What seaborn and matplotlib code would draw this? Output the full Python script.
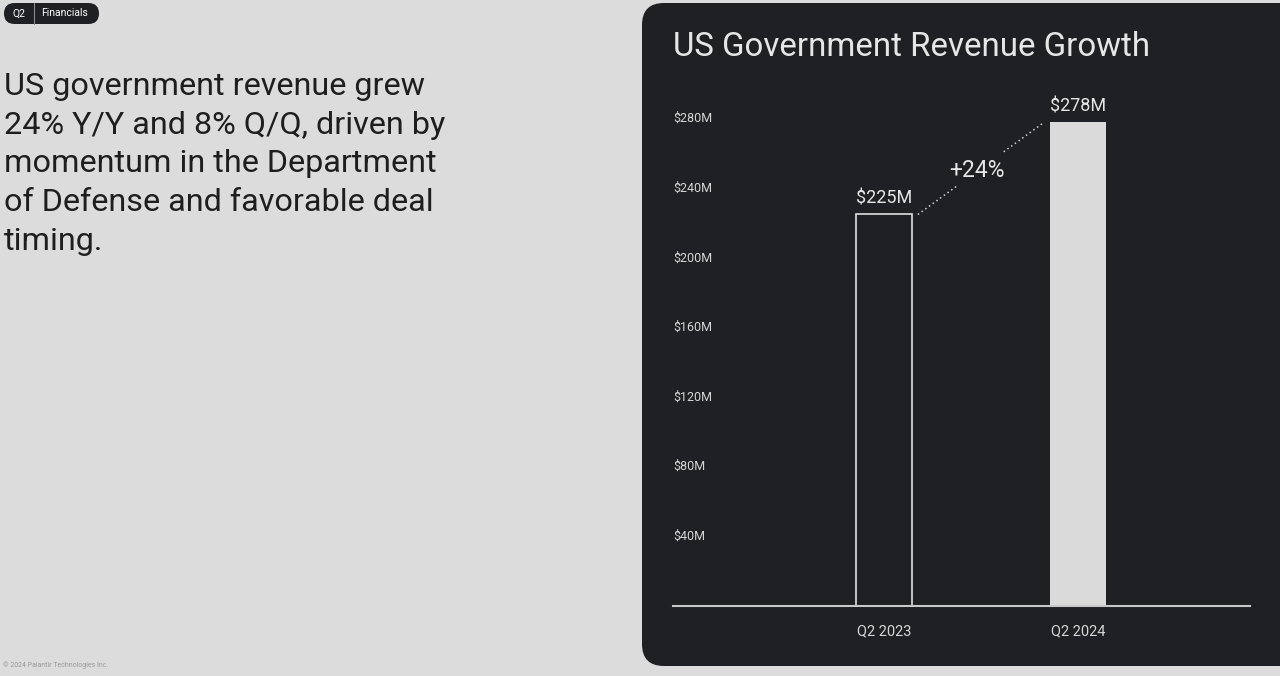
import matplotlib
matplotlib.use('Agg')
import matplotlib.pyplot as plt
from matplotlib.patches import FancyBboxPatch
import seaborn as sns

# Chart data
quarters = ['Q2 2023', 'Q2 2024']
revenue = [225, 278]          # $M
growth_label = '+24%'
tick_values = [40, 80, 120, 160, 200, 240, 280]

headline = ("US government revenue grew\n24% Y/Y and 8% Q/Q, driven by\n"
            "momentum in the Department\nof Defense and favorable deal\ntiming.")

sns.set_theme(style='white')
plt.rcParams['font.family'] = ['Roboto', 'DejaVu Sans']

W, H = 12.8, 6.76
fig = plt.figure(figsize=(W, H), dpi=100)
fig.patch.set_facecolor('#dcdcdc')

PANEL = '#1f2023'
LIGHT = '#e6e6e6'

# Dark panel on the right
panel = FancyBboxPatch((6.42, 0.10), 6.9, 6.63,
                       boxstyle='round,pad=0,rounding_size=0.22',
                       transform=fig.dpi_scale_trans,
                       facecolor=PANEL, edgecolor='none', zorder=0)
fig.add_artist(panel)

# Badge at top left
badge = FancyBboxPatch((0.04, 6.52), 0.95, 0.21,
                       boxstyle='round,pad=0,rounding_size=0.105',
                       transform=fig.dpi_scale_trans,
                       facecolor=PANEL, edgecolor='none')
fig.add_artist(badge)
fig.add_artist(plt.Line2D([0.34, 0.34], [6.52, 6.73], color='#8a8a8a', lw=0.8,
                          transform=fig.dpi_scale_trans))
fig.text(0.19 / W, 6.625 / H, 'Q2', color='white', fontsize=7.5, ha='center', va='center')
fig.text(0.41 / W, 6.625 / H, 'Financials', color='white', fontsize=7.5, ha='left', va='center')

# Headline text
fig.text(4 / 1280, 1 - 72 / 676, headline, color='#1e1e1e', fontsize=23.3,
         ha='left', va='top', linespacing=1.42)

fig.text(3 / 1280, 1 - 665 / 676, '\u00a9 2024 Palantir Technologies Inc.', color='#9a9a9a',
         fontsize=5, ha='left', va='center')

# Chart title
fig.text(673 / 1280, 1 - 47 / 676, 'US Government Revenue Growth', color=LIGHT,
         fontsize=23.8, ha='left', va='center')

# Bar chart
ax = fig.add_axes([673 / 1280, 70 / 676, 577 / 1280, 522 / 676])
ax.set_facecolor('none')
bar_w = 0.289
sns.barplot(x=quarters, y=revenue, width=bar_w, ax=ax, color='#d9d9d9')
ax.patches[0].set_facecolor(PANEL)
ax.patches[0].set_edgecolor('#e0e0e0')
ax.patches[0].set_linewidth(1.2)
ax.patches[1].set_facecolor('#dadada')
ax.patches[1].set_edgecolor('none')

ax.set_xlim(-1.088, 1.887)
ax.set_ylim(0, 300)
ax.set_xlabel('')
ax.set_ylabel('')
for s in ['top', 'right', 'left']:
    ax.spines[s].set_visible(False)
ax.spines['bottom'].set_color('#c8c8c8')
ax.spines['bottom'].set_linewidth(1.5)
ax.set_yticks([])
ax.tick_params(axis='x', length=0, pad=13, labelsize=10.5, labelcolor='#d6d6d6')

# y labels drawn inside the axes at the left edge
for v in tick_values:
    ax.text(0, v, f'${v}M', transform=ax.get_yaxis_transform(), color='#d6d6d6',
            fontsize=9, ha='left', va='center')

# value labels
for i, v in enumerate(revenue):
    ax.text(i, v + 4, f'${v}M', color=LIGHT, fontsize=13, ha='center', va='bottom')

# dotted connector with a gap for the growth label
x0, y0 = bar_w / 2 + 0.03, revenue[0]
x1, y1 = 1 - bar_w / 2 - 0.03, revenue[1]
def lerp(t):
    return x0 + (x1 - x0) * t, y0 + (y1 - y0) * t
for a, b in [(0, 0.32), (0.68, 1)]:
    pa, pb = lerp(a), lerp(b)
    ax.plot([pa[0], pb[0]], [pa[1], pb[1]], color='#cfcfcf', lw=1.1, ls=(0, (1, 2)))
mx, my = lerp(0.5)
ax.text(mx - 0.02, my - 1, growth_label, color=LIGHT, fontsize=16.5, ha='center', va='center')

fig.savefig('out.png', dpi=100, facecolor=fig.get_facecolor())
